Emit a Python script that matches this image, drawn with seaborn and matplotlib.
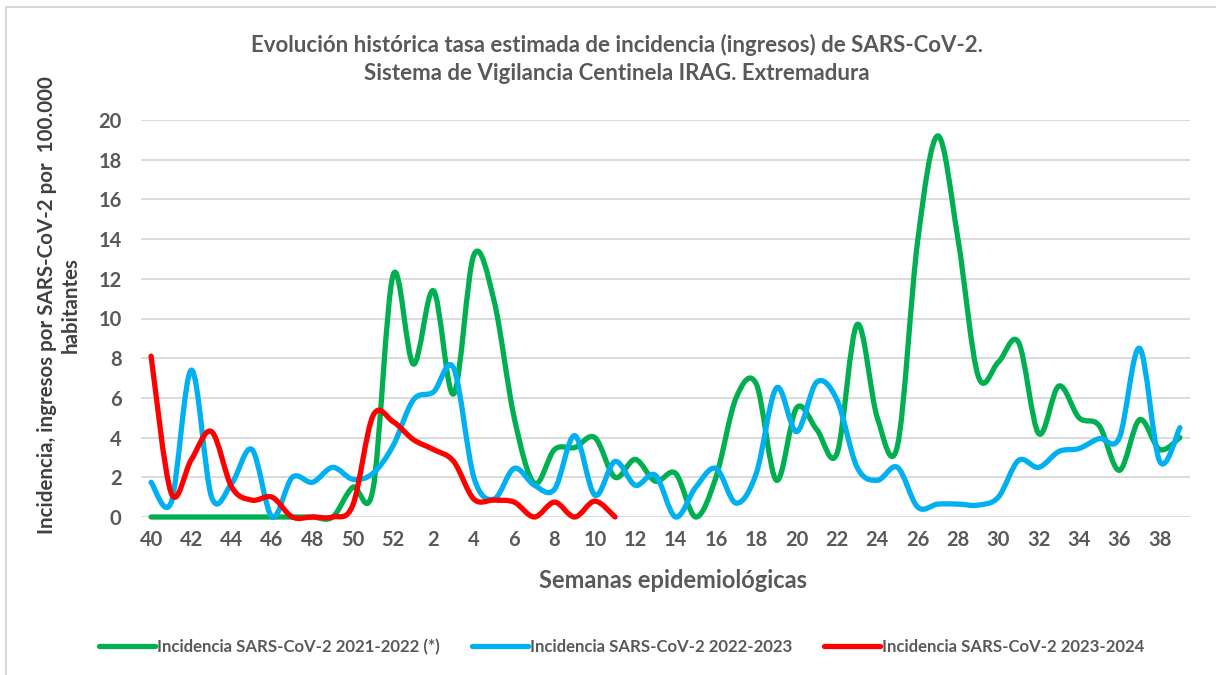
import numpy as np
import matplotlib
matplotlib.use("Agg")
import matplotlib.pyplot as plt
import seaborn as sns
from matplotlib.path import Path
from matplotlib.patches import PathPatch, Rectangle
from matplotlib.lines import Line2D

# --- Datos (semanas epidemiológicas 40..52, 1..39) ---
semanas = list(range(40, 53)) + list(range(1, 40))

inc_2122 = [0, 0, 0, 0, 0, 0, 0, 0, 0, 0, 1.5, 1.4, 12.2,
            7.7, 11.4, 6.2, 13.2, 10.9, 5.0, 1.7, 3.4, 3.5, 4.0, 2.0, 2.9,
            1.8, 2.2, 0.0, 2.0, 6.0, 6.7, 1.85, 5.5, 4.4, 3.2, 9.7, 5.0,
            3.6, 13.9, 19.2, 14.0, 7.1, 7.8, 8.8, 4.2, 6.6, 5.0, 4.6, 2.35,
            4.9, 3.4, 4.0]

inc_2223 = [1.75, 0.75, 7.4, 1.0, 1.7, 3.4, 0.0, 2.0, 1.75, 2.5, 1.9, 2.2, 3.6,
            5.9, 6.3, 7.5, 2.0, 0.9, 2.45, 1.6, 1.4, 4.1, 1.1, 2.8, 1.6,
            2.1, 0.0, 1.5, 2.45, 0.7, 2.2, 6.5, 4.3, 6.8, 5.9, 2.5, 1.85,
            2.5, 0.5, 0.65, 0.65, 0.6, 1.0, 2.85, 2.5, 3.3, 3.45, 3.95, 4.0,
            8.5, 2.8, 4.5]

inc_2324 = [8.1, 1.2, 2.9, 4.3, 1.5, 0.85, 1.0, 0.0, 0.0, 0.0, 0.6, 5.1, 4.8,
            3.9, 3.4, 2.8, 0.9, 0.85, 0.75, 0.0, 0.75, 0.0, 0.8, 0.0]

series = [
    ("Incidencia SARS-CoV-2 2021-2022 (*)", inc_2122, "#00B050"),
    ("Incidencia SARS-CoV-2 2022-2023", inc_2223, "#00B0F0"),
    ("Incidencia SARS-CoV-2 2023-2024", inc_2324, "#FF0000"),
]

sns.set_theme(style="whitegrid")
plt.rcParams['font.family'] = ['Lato', 'DejaVu Sans']

fig = plt.figure(figsize=(12.16, 6.75), dpi=100)
ax = fig.add_axes([141 / 1216, 1 - 517 / 675, (1190 - 141) / 1216, (517 - 120) / 675])


def smooth_path(xs, ys):
    # curva suavizada estilo Excel (Bezier con puntos vecinos)
    pts = np.column_stack([xs, ys]).astype(float)
    n = len(pts)
    verts = [pts[0]]
    codes = [Path.MOVETO]
    for i in range(n - 1):
        p0 = pts[i - 1] if i > 0 else pts[i]
        p1 = pts[i]
        p2 = pts[i + 1]
        p3 = pts[i + 2] if i + 2 < n else pts[i + 1]
        c1 = p1 + (p2 - p0) / 6.0
        c2 = p2 - (p3 - p1) / 6.0
        verts += [c1, c2, p2]
        codes += [Path.CURVE4] * 3
    return Path(verts, codes)


handles = []
for label, vals, color in series:
    x = np.arange(len(vals))
    patch = PathPatch(smooth_path(x, vals), fill=False, edgecolor=color,
                      linewidth=3.8, capstyle="round", joinstyle="round",
                      clip_on=False, zorder=3)
    ax.add_patch(patch)
    handles.append(Line2D([], [], color=color, linewidth=3.8,
                          solid_capstyle="round", label=label))

ax.set_xlim(-0.5, len(semanas) - 0.5)
ax.set_ylim(0, 20)
ax.set_yticks(range(0, 21, 2))
ax.set_xticks(range(0, len(semanas), 2))
ax.set_xticklabels([str(s) for s in semanas[::2]])
ax.tick_params(axis="both", labelsize=14.5, colors="#595959", length=0)
ax.tick_params(axis="y", pad=14)
ax.tick_params(axis="x", pad=9)
for t in ax.get_xticklabels() + ax.get_yticklabels():
    t.set_fontweight("bold")

ax.grid(axis="y", color="#D9D9D9", linewidth=1.3)
ax.grid(axis="x", visible=False)
for s in ax.spines.values():
    s.set_visible(False)
ax.set_facecolor("white")

fig.text(617 / 1216, 1 - 45 / 675,
         "Evolución histórica tasa estimada de incidencia (ingresos) de SARS-CoV-2.",
         ha="center", va="center", fontsize=16, fontweight="bold", color="#595959")
fig.text(617 / 1216, 1 - 73 / 675, "Sistema de Vigilancia Centinela IRAG. Extremadura",
         ha="center", va="center", fontsize=16, fontweight="bold", color="#595959")

fig.text(47 / 1216, 1 - 305 / 675, "Incidencia, ingresos por SARS-CoV-2 por  100.000",
         rotation=90, ha="center", va="center", fontsize=14.8, fontweight="bold",
         color="#404040")
fig.text(71 / 1216, 1 - 305 / 675, "habitantes",
         rotation=90, ha="center", va="center", fontsize=14.8, fontweight="bold",
         color="#404040")

fig.text(673 / 1216, 1 - 580 / 675, "Semanas epidemiológicas",
         ha="center", va="center", fontsize=17, fontweight="bold", color="#595959")

leg = fig.legend(handles=handles, loc="center", bbox_to_anchor=(622 / 1216, 1 - 647 / 675),
                 ncol=3, frameon=False, fontsize=12.1, handlelength=3.3,
                 handletextpad=0.15, columnspacing=1.9)
for t in leg.get_texts():
    t.set_color("#595959")
    t.set_fontweight("bold")

# borde del área del gráfico
fig.patches.append(Rectangle((6 / 1216, -0.1), 1.2, 1 - 7 / 675 + 0.1,
                             transform=fig.transFigure, fill=False,
                             edgecolor="#D9D9D9", linewidth=1.5))

fig.savefig("out.png", dpi=100, facecolor="white")
